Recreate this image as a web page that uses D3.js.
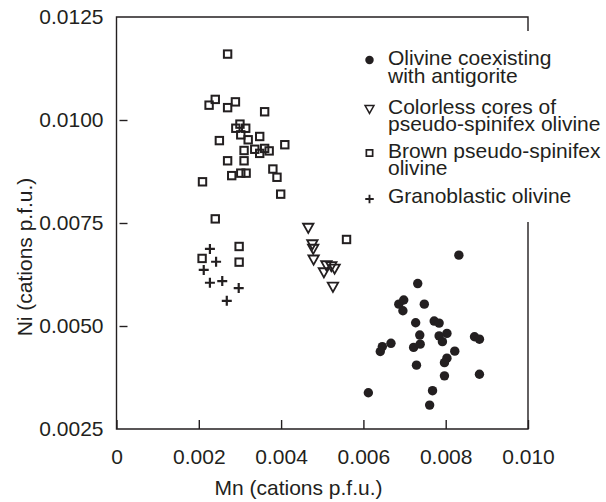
<!DOCTYPE html>
<html>
<head>
<meta charset="utf-8">
<script src="https://cdn.jsdelivr.net/npm/d3@7"></script>
<style>
  html, body { margin: 0; padding: 0; background: #fff; }
  svg { display: block; }
  text { font-family: "Liberation Sans", Arial, Helvetica, sans-serif; fill: #231f20; }
</style>
</head>
<body>
<svg id="chart" width="606" height="502"></svg>
<script>
// Mn vs Ni (cations p.f.u.) in olivine groups

// Olivine coexisting with antigorite
const antigoriteMn = [0.00832, 0.00732, 0.00686, 0.00698, 0.00696, 0.00748, 0.00727, 0.00772, 0.00784, 0.00737,
  0.00784, 0.00803, 0.00792, 0.00870, 0.00882, 0.00667, 0.00646, 0.00641, 0.00722, 0.00738,
  0.00822, 0.00803, 0.00797, 0.00729, 0.00882, 0.00797, 0.00612, 0.00768, 0.00761];
const antigoriteNi = [0.00672, 0.00603, 0.00553, 0.00563, 0.00537, 0.00553, 0.00508, 0.00512, 0.00507, 0.00478,
  0.00476, 0.00482, 0.00462, 0.00474, 0.00468, 0.00458, 0.00450, 0.00438, 0.00448, 0.00456,
  0.00439, 0.00422, 0.00411, 0.00405, 0.00383, 0.00379, 0.00338, 0.00343, 0.00308];

// Colorless cores of pseudo-spinifex olivine
const coresMn = [0.00466, 0.00476, 0.00478, 0.00479, 0.00510, 0.00504, 0.00530, 0.00522, 0.00526];
const coresNi = [0.00737, 0.00697, 0.00686, 0.00660, 0.00646, 0.00629, 0.00638, 0.00644, 0.00594];

// Brown pseudo-spinifex olivine
const brownMn = [0.00270, 0.00240, 0.00225, 0.00270, 0.00289, 0.00360, 0.00290, 0.00314, 0.00300, 0.00302,
  0.00250, 0.00320, 0.00348, 0.00409, 0.00310, 0.00336, 0.00360, 0.00371, 0.00348, 0.00270,
  0.00310, 0.00380, 0.00280, 0.00302, 0.00315, 0.00390, 0.00209, 0.00399, 0.00240, 0.00298,
  0.00298, 0.00208, 0.00559];
const brownNi = [0.01160, 0.01050, 0.01036, 0.01030, 0.01044, 0.01020, 0.00980, 0.00980, 0.00990, 0.00964,
  0.00950, 0.00952, 0.00960, 0.00940, 0.00926, 0.00929, 0.00931, 0.00925, 0.00919, 0.00901,
  0.00901, 0.00881, 0.00865, 0.00871, 0.00871, 0.00861, 0.00850, 0.00820, 0.00760, 0.00693,
  0.00655, 0.00664, 0.00710];

// Granoblastic olivine
const granoMn = [0.00227, 0.00242, 0.00212, 0.00227, 0.00257, 0.00297, 0.00268];
const granoNi = [0.00687, 0.00656, 0.00636, 0.00605, 0.00609, 0.00592, 0.00561];

// Axis ticks
const xTicks = [0, 0.002, 0.004, 0.006, 0.008, 0.010];
const xTickLabels = ["0", "0.002", "0.004", "0.006", "0.008", "0.010"];
const yTicks = [0.0025, 0.0050, 0.0075, 0.0100, 0.0125];
const yTickLabels = ["0.0025", "0.0050", "0.0075", "0.0100", "0.0125"];

const xTitle = "Mn (cations p.f.u.)";
const yTitle = "Ni (cations p.f.u.)";

const legendItems = [
  { key: "circle",   lines: ["Olivine coexisting", "with antigorite"] },
  { key: "triangle", lines: ["Colorless cores of", "pseudo-spinifex olivine"] },
  { key: "square",   lines: ["Brown pseudo-spinifex", "olivine"] },
  { key: "plus",     lines: ["Granoblastic olivine"] }
];

const ink = "#231f20";
const svg = d3.select("#chart");

const plotLeft = 116.5, plotRight = 528, plotTop = 17, plotBottom = 429;
const x = d3.scaleLinear().domain([0, 0.010]).range([plotLeft, plotRight]);
const y = d3.scaleLinear().domain([0.0025, 0.0125]).range([plotBottom, plotTop]);

// Marker shapes
function drawMarker(g, type, cx, cy, s) {
  if (type === "circle") {
    g.append("circle").attr("cx", cx).attr("cy", cy).attr("r", 4.7 * s).attr("fill", ink);
  } else if (type === "square") {
    const h = 3.7 * s;
    g.append("rect").attr("x", cx - h).attr("y", cy - h).attr("width", 2 * h).attr("height", 2 * h)
      .attr("fill", "none").attr("stroke", ink).attr("stroke-width", 2 * s);
  } else if (type === "triangle") {
    const w = 5.2 * s, hh = 4.6 * s;
    g.append("path").attr("d", `M${cx - w},${cy - hh}L${cx + w},${cy - hh}L${cx},${cy + hh}Z`)
      .attr("fill", "none").attr("stroke", ink).attr("stroke-width", 1.8 * s).attr("stroke-linejoin", "miter");
  } else if (type === "plus") {
    const a = 5 * s;
    g.append("path").attr("d", `M${cx - a},${cy}H${cx + a}M${cx},${cy - a}V${cy + a}`)
      .attr("fill", "none").attr("stroke", ink).attr("stroke-width", 2.2 * s);
  }
}

// Frame (right side is open where the legend sits)
const frame = svg.append("g").attr("stroke", ink).attr("stroke-width", 1.4).attr("fill", "none");
frame.append("path").attr("d", `M${plotRight},${plotTop + 14}V${plotTop}H${plotLeft}V${plotBottom}H${plotRight}V222`);

// X axis
const xAxis = d3.axisBottom(x).tickValues(xTicks)
  .tickFormat((d, i) => xTickLabels[i]).tickSizeInner(-9).tickSizeOuter(0).tickPadding(20);
const gx = svg.append("g").attr("transform", `translate(0,${plotBottom})`).call(xAxis);
gx.select(".domain").remove();
gx.selectAll("line").attr("stroke", ink).attr("stroke-width", 1.4);
gx.selectAll("text").attr("font-size", 21).attr("fill", ink)
  .attr("font-family", "Liberation Sans, Arial, sans-serif");

// Y axis: labels, plus short detached inner dashes
const yAxis = d3.axisLeft(y).tickValues(yTicks)
  .tickFormat((d, i) => yTickLabels[i]).tickSize(0).tickPadding(13);
const gy = svg.append("g").attr("transform", `translate(${plotLeft},0)`).call(yAxis);
gy.select(".domain").remove();
gy.selectAll("text").attr("font-size", 21).attr("fill", ink)
  .attr("font-family", "Liberation Sans, Arial, sans-serif");
gy.selectAll(".tick").filter(d => d > 0.0025 && d < 0.0125)
  .append("line").attr("x1", 3).attr("x2", 11).attr("stroke", ink).attr("stroke-width", 1.4);

// Axis titles
svg.append("text").attr("x", 298.5).attr("y", 495).attr("text-anchor", "middle")
  .attr("font-size", 21).text(xTitle);
svg.append("text").attr("transform", "translate(31.5,257) rotate(-90)").attr("text-anchor", "middle")
  .attr("font-size", 21).text(yTitle);

// Data points
const plot = svg.append("g");
const groups = [
  { type: "square", mn: brownMn, ni: brownNi },
  { type: "plus", mn: granoMn, ni: granoNi },
  { type: "triangle", mn: coresMn, ni: coresNi },
  { type: "circle", mn: antigoriteMn, ni: antigoriteNi }
];
groups.forEach(gr => {
  gr.mn.forEach((v, i) => drawMarker(plot, gr.type, x(v), y(gr.ni[i]), 1));
});

// Legend
const legend = svg.append("g");
const legendRows = [
  { mark: 60, baselines: [65, 83] },
  { mark: 109.5, baselines: [114, 131] },
  { mark: 153, baselines: [158, 175] },
  { mark: 199, baselines: [203] }
];
legendItems.forEach((item, i) => {
  const row = legendRows[i];
  drawMarker(legend, item.key, 369.5, row.mark, item.key === "circle" ? 0.9 : 0.85);
  item.lines.forEach((line, j) => {
    legend.append("text").attr("x", 388).attr("y", row.baselines[j]).attr("font-size", 21).text(line);
  });
});
</script>
</body>
</html>
